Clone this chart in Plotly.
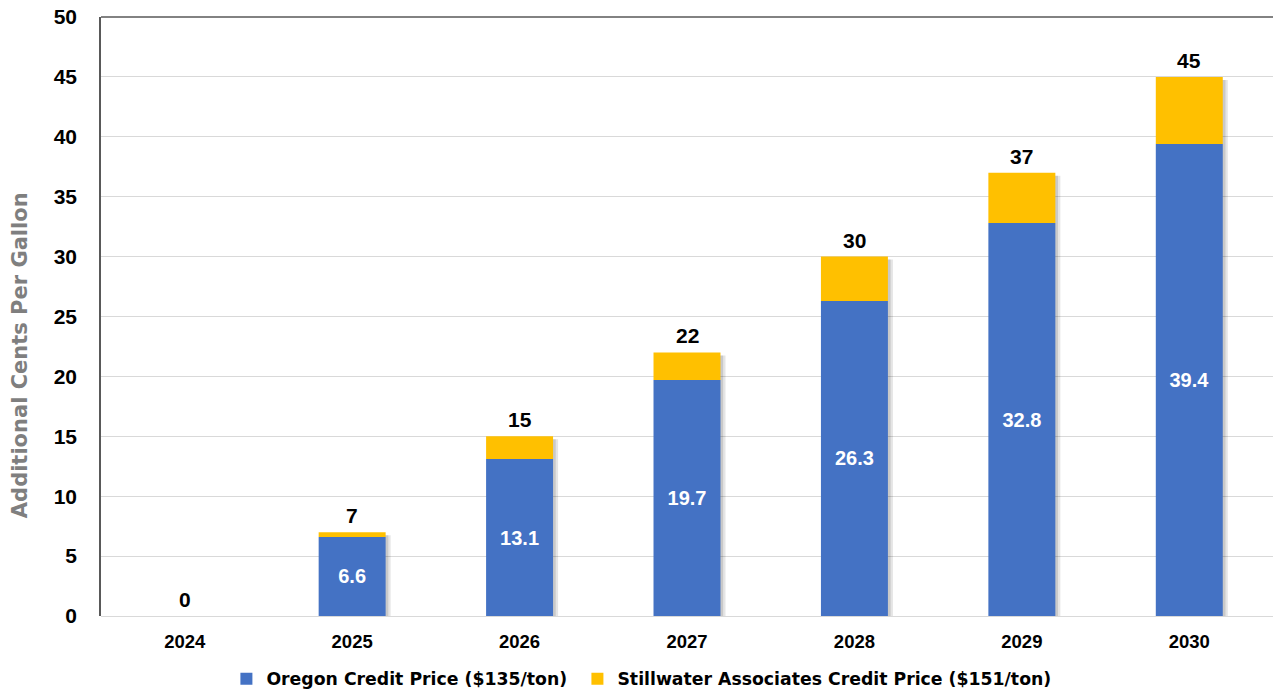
import plotly.graph_objects as go

# Chart data
years = ["2024", "2025", "2026", "2027", "2028", "2029", "2030"]
oregon = [0, 6.6, 13.1, 19.7, 26.3, 32.8, 39.4]
totals = [0, 7, 15, 22, 30, 37, 45]
stillwater = [round(t - o, 1) for t, o in zip(totals, oregon)]
oregon_labels = ["" if v == 0 else f"{v:.1f}" for v in oregon]
total_labels = [str(t) for t in totals]

BLUE = "#4472C4"
GOLD = "#FFC000"
BAR_W = 0.4
NUM_FONT = "Liberation Sans, Arial, sans-serif"
TITLE_FONT = "DejaVu Sans, sans-serif"
LEGEND_FONT = dict(family=TITLE_FONT, size=17.3, color="#000000", weight="bold")

fig = go.Figure()

# soft drop shadow behind each stacked bar (two translucent layers)
for shift, alpha in [(0.030, 0.10), (0.016, 0.12)]:
    fig.add_trace(go.Bar(
        x=years, y=totals, base=[-0.25] * len(years), width=BAR_W,
        offset=-BAR_W / 2 + shift, marker=dict(color=f"rgba(0,0,0,{alpha})", line_width=0),
        showlegend=False, hoverinfo="skip",
    ))

fig.add_trace(go.Bar(
    x=years, y=oregon, base=[0] * len(years), width=BAR_W,
    name="Oregon Credit Price ($135/ton)",
    marker=dict(color=BLUE, line_width=0),
    text=oregon_labels, textposition="inside", insidetextanchor="middle",
    textangle=0,
    textfont=dict(family=NUM_FONT, size=20, color="white", weight="bold"),
    legend="legend",
))

fig.add_trace(go.Bar(
    x=years, y=stillwater, base=oregon, width=BAR_W,
    name="Stillwater Associates Credit Price ($151/ton)",
    marker=dict(color=GOLD, line_width=0),
    legend="legend2",
))

# total labels above each stack (x given as category index)
total_annotations = [
    dict(x=i, y=tot, xref="x", yref="y", text=lbl, showarrow=False,
         yanchor="bottom", yshift=3,
         font=dict(family=NUM_FONT, size=21, color="#000000", weight="bold"))
    for i, (tot, lbl) in enumerate(zip(totals, total_labels))
]

fig.update_layout(
    width=1273, height=690,
    barmode="overlay",
    plot_bgcolor="white", paper_bgcolor="white",
    margin=dict(l=101, r=0, t=17, b=74, autoexpand=False),
    showlegend=True,
    legend=dict(
        orientation="h", x=0.107, xanchor="left", y=-0.105, yanchor="middle",
        font=LEGEND_FONT,
    ),
    legend2=dict(
        orientation="h", x=0.4065, xanchor="left", y=-0.105, yanchor="middle",
        font=LEGEND_FONT,
    ),
    xaxis=dict(
        type="category", range=[-0.5, 6.5], showgrid=False, showline=False, ticks="",
        tickfont=dict(family=NUM_FONT, size=18.5, color="#000000", weight="bold"),
        ticklabelstandoff=12,
    ),
    yaxis=dict(
        range=[0, 50], dtick=5, showgrid=True, gridcolor="#d9d9d9", gridwidth=1,
        zeroline=True, zerolinecolor="#d9d9d9", zerolinewidth=1,
        showline=True, linecolor="#595959", linewidth=1.5, ticks="",
        tickfont=dict(family=NUM_FONT, size=21, color="#000000", weight="bold"),
        ticklabelstandoff=18,
    ),
    shapes=[dict(type="line", xref="paper", yref="paper", x0=0, x1=1, y0=1, y1=1,
                 line=dict(color="#595959", width=1.5))],
    annotations=total_annotations + [dict(
        text="Additional Cents Per Gallon", textangle=-90,
        xref="paper", yref="paper", x=-0.0685, y=0.435,
        xanchor="center", yanchor="middle", showarrow=False,
        font=dict(family=TITLE_FONT, size=21, color="#7f7f7f", weight="bold"),
    )],
)

fig.write_html("out.html")
